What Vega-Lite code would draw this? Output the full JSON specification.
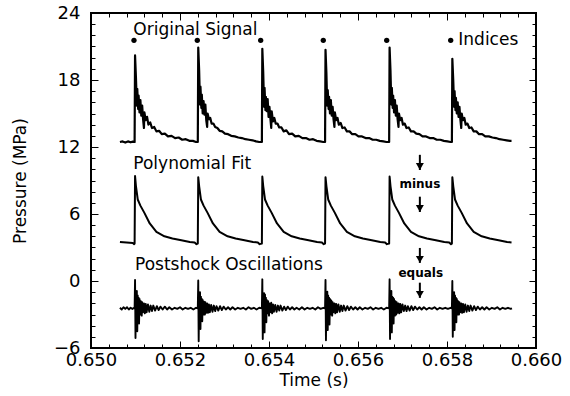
{
  "$schema": "https://vega.github.io/schema/vega-lite/v6.json",
  "width": 445,
  "height": 335,
  "autosize": "none",
  "padding": {"left": 91, "top": 13, "right": 34, "bottom": 48},
  "background": "white",
  "config": {
    "font": "DejaVu Sans",
    "view": {"stroke": "black", "strokeWidth": 2},
    "axis": {"domain": false, "grid": false, "labelFlush": false, "labelOverlap": false}
  },
  "datasets": {
    "original": [
      {"t":0.65065,"p":12.45},{"t":0.65071,"p":12.5},{"t":0.65077,"p":12.4},{"t":0.65083,"p":12.5},{"t":0.65089,"p":12.42},{"t":0.65094,"p":12.48},
      {"t":0.65098,"p":12.45},{"t":0.65099,"p":20.2},{"t":0.65101,"p":18.2},{"t":0.65102,"p":17.0},{"t":0.65103,"p":15.7},{"t":0.65104,"p":17.2},{"t":0.65106,"p":15.4},{"t":0.65107,"p":16.6},{"t":0.65109,"p":15.1},{"t":0.65111,"p":16.2},{"t":0.65113,"p":14.8},{"t":0.65115,"p":15.7},{"t":0.65117,"p":14.5},{"t":0.65119,"p":13.7},{"t":0.6512,"p":15.1},{"t":0.65123,"p":14.4},{"t":0.65126,"p":14.7},{"t":0.65129,"p":14.0},{"t":0.65133,"p":14.2},{"t":0.65137,"p":13.7},{"t":0.65142,"p":13.8},{"t":0.65147,"p":13.4},{"t":0.65153,"p":13.45},{"t":0.65159,"p":13.15},{"t":0.65166,"p":13.2},{"t":0.65173,"p":12.95},{"t":0.65181,"p":13.0},{"t":0.65189,"p":12.8},{"t":0.65197,"p":12.85},{"t":0.65205,"p":12.65},{"t":0.65213,"p":12.7},{"t":0.65221,"p":12.55},{"t":0.65229,"p":12.55},{"t":0.65236,"p":12.45},
      {"t":0.6524,"p":12.45},{"t":0.65241,"p":20.9},{"t":0.65243,"p":18.9},{"t":0.65244,"p":17.3},{"t":0.65245,"p":15.8},{"t":0.65246,"p":17.4},{"t":0.65248,"p":15.5},{"t":0.65249,"p":16.7},{"t":0.65251,"p":15.0},{"t":0.65253,"p":16.1},{"t":0.65255,"p":14.9},{"t":0.65257,"p":15.8},{"t":0.65259,"p":14.4},{"t":0.65261,"p":13.8},{"t":0.65262,"p":15.0},{"t":0.65265,"p":14.5},{"t":0.65268,"p":14.6},{"t":0.65271,"p":14.1},{"t":0.65275,"p":14.1},{"t":0.65279,"p":13.8},{"t":0.65284,"p":13.7},{"t":0.65289,"p":13.45},{"t":0.65295,"p":13.4},{"t":0.65301,"p":13.2},{"t":0.65308,"p":13.15},{"t":0.65315,"p":13.0},{"t":0.65323,"p":12.95},{"t":0.65331,"p":12.85},{"t":0.65339,"p":12.8},{"t":0.65347,"p":12.7},{"t":0.65355,"p":12.65},{"t":0.65363,"p":12.6},{"t":0.65371,"p":12.5},{"t":0.65378,"p":12.45},
      {"t":0.65384,"p":12.45},{"t":0.65385,"p":20.8},{"t":0.65387,"p":18.7},{"t":0.65388,"p":17.1},{"t":0.65389,"p":15.6},{"t":0.6539,"p":17.3},{"t":0.65392,"p":15.3},{"t":0.65393,"p":16.5},{"t":0.65395,"p":15.2},{"t":0.65397,"p":16.3},{"t":0.65399,"p":14.7},{"t":0.65401,"p":15.6},{"t":0.65403,"p":14.6},{"t":0.65405,"p":13.7},{"t":0.65406,"p":15.2},{"t":0.65409,"p":14.3},{"t":0.65412,"p":14.6},{"t":0.65415,"p":14.1},{"t":0.65419,"p":14.1},{"t":0.65423,"p":13.75},{"t":0.65428,"p":13.75},{"t":0.65433,"p":13.4},{"t":0.65439,"p":13.5},{"t":0.65445,"p":13.15},{"t":0.65452,"p":13.2},{"t":0.65459,"p":12.95},{"t":0.65467,"p":13.0},{"t":0.65475,"p":12.8},{"t":0.65483,"p":12.8},{"t":0.65491,"p":12.65},{"t":0.65499,"p":12.7},{"t":0.65507,"p":12.55},{"t":0.65515,"p":12.5},{"t":0.65522,"p":12.45},
      {"t":0.65526,"p":12.45},{"t":0.65527,"p":20.7},{"t":0.65529,"p":18.6},{"t":0.6553,"p":17.0},{"t":0.65531,"p":15.7},{"t":0.65532,"p":17.1},{"t":0.65534,"p":15.4},{"t":0.65535,"p":16.5},{"t":0.65537,"p":15.0},{"t":0.65539,"p":16.2},{"t":0.65541,"p":14.8},{"t":0.65543,"p":15.6},{"t":0.65545,"p":14.5},{"t":0.65547,"p":13.8},{"t":0.65548,"p":15.1},{"t":0.65551,"p":14.4},{"t":0.65554,"p":14.6},{"t":0.65557,"p":14.0},{"t":0.65561,"p":14.15},{"t":0.65565,"p":13.7},{"t":0.6557,"p":13.75},{"t":0.65575,"p":13.4},{"t":0.65581,"p":13.4},{"t":0.65587,"p":13.15},{"t":0.65594,"p":13.15},{"t":0.65601,"p":12.95},{"t":0.65609,"p":12.95},{"t":0.65617,"p":12.8},{"t":0.65625,"p":12.8},{"t":0.65633,"p":12.65},{"t":0.65641,"p":12.65},{"t":0.65649,"p":12.55},{"t":0.65657,"p":12.5},{"t":0.65664,"p":12.45},
      {"t":0.6567,"p":12.45},{"t":0.65671,"p":20.9},{"t":0.65673,"p":18.8},{"t":0.65674,"p":17.2},{"t":0.65675,"p":15.8},{"t":0.65676,"p":17.3},{"t":0.65678,"p":15.5},{"t":0.65679,"p":16.6},{"t":0.65681,"p":15.1},{"t":0.65683,"p":16.2},{"t":0.65685,"p":14.8},{"t":0.65687,"p":15.7},{"t":0.65689,"p":14.5},{"t":0.65691,"p":13.8},{"t":0.65692,"p":15.0},{"t":0.65695,"p":14.4},{"t":0.65698,"p":14.6},{"t":0.65701,"p":14.0},{"t":0.65705,"p":14.1},{"t":0.65709,"p":13.7},{"t":0.65714,"p":13.75},{"t":0.65719,"p":13.4},{"t":0.65725,"p":13.4},{"t":0.65731,"p":13.2},{"t":0.65738,"p":13.15},{"t":0.65745,"p":12.95},{"t":0.65753,"p":12.95},{"t":0.65761,"p":12.8},{"t":0.65769,"p":12.8},{"t":0.65777,"p":12.65},{"t":0.65785,"p":12.65},{"t":0.65793,"p":12.55},{"t":0.65801,"p":12.5},{"t":0.65808,"p":12.45},
      {"t":0.65811,"p":12.45},{"t":0.65812,"p":19.9},{"t":0.65814,"p":18.0},{"t":0.65815,"p":16.8},{"t":0.65816,"p":15.6},{"t":0.65817,"p":17.0},{"t":0.65819,"p":15.3},{"t":0.6582,"p":16.4},{"t":0.65822,"p":15.0},{"t":0.65824,"p":16.0},{"t":0.65826,"p":14.7},{"t":0.65828,"p":15.6},{"t":0.6583,"p":14.5},{"t":0.65832,"p":13.7},{"t":0.65833,"p":15.0},{"t":0.65836,"p":14.4},{"t":0.65839,"p":14.6},{"t":0.65842,"p":14.0},{"t":0.65846,"p":14.1},{"t":0.6585,"p":13.7},{"t":0.65855,"p":13.75},{"t":0.6586,"p":13.4},{"t":0.65866,"p":13.4},{"t":0.65872,"p":13.15},{"t":0.65879,"p":13.15},{"t":0.65886,"p":12.95},{"t":0.65894,"p":12.95},{"t":0.65902,"p":12.85},{"t":0.6591,"p":12.8},{"t":0.65918,"p":12.7},{"t":0.65926,"p":12.65},{"t":0.65934,"p":12.6},{"t":0.65942,"p":12.55},{"t":0.65945,"p":12.55}
    ],
    "fit": [
      {"t":0.65065,"p":3.5},{"t":0.6508,"p":3.45},{"t":0.65094,"p":3.4},{"t":0.65097,"p":3.3},
      {"t":0.65098,"p":3.35},{"t":0.65099,"p":9.4},{"t":0.65101,"p":8.5},{"t":0.65105,"p":7.3},{"t":0.65111,"p":6.75},{"t":0.6512,"p":6.1},{"t":0.65132,"p":5.15},{"t":0.65147,"p":4.4},{"t":0.65165,"p":4.0},{"t":0.65183,"p":3.8},{"t":0.65203,"p":3.65},{"t":0.65222,"p":3.5},{"t":0.65233,"p":3.45},{"t":0.65237,"p":3.3},
      {"t":0.6524,"p":3.35},{"t":0.65241,"p":9.3},{"t":0.65243,"p":8.5},{"t":0.65247,"p":7.3},{"t":0.65253,"p":6.75},{"t":0.65262,"p":6.1},{"t":0.65274,"p":5.15},{"t":0.65289,"p":4.4},{"t":0.65307,"p":4.0},{"t":0.65325,"p":3.8},{"t":0.65345,"p":3.65},{"t":0.65364,"p":3.5},{"t":0.65375,"p":3.45},{"t":0.65379,"p":3.3},
      {"t":0.65384,"p":3.35},{"t":0.65385,"p":9.35},{"t":0.65387,"p":8.5},{"t":0.65391,"p":7.3},{"t":0.65397,"p":6.75},{"t":0.65406,"p":6.1},{"t":0.65418,"p":5.15},{"t":0.65433,"p":4.4},{"t":0.65451,"p":4.0},{"t":0.65469,"p":3.8},{"t":0.65489,"p":3.65},{"t":0.65508,"p":3.5},{"t":0.65519,"p":3.45},{"t":0.65523,"p":3.3},
      {"t":0.65526,"p":3.35},{"t":0.65527,"p":9.3},{"t":0.65529,"p":8.5},{"t":0.65533,"p":7.3},{"t":0.65539,"p":6.75},{"t":0.65548,"p":6.1},{"t":0.6556,"p":5.15},{"t":0.65575,"p":4.4},{"t":0.65593,"p":4.0},{"t":0.65611,"p":3.8},{"t":0.65631,"p":3.65},{"t":0.6565,"p":3.5},{"t":0.65661,"p":3.45},{"t":0.65665,"p":3.3},
      {"t":0.6567,"p":3.35},{"t":0.65671,"p":9.35},{"t":0.65673,"p":8.5},{"t":0.65677,"p":7.3},{"t":0.65683,"p":6.75},{"t":0.65692,"p":6.1},{"t":0.65704,"p":5.15},{"t":0.65719,"p":4.4},{"t":0.65737,"p":4.0},{"t":0.65755,"p":3.8},{"t":0.65775,"p":3.65},{"t":0.65794,"p":3.5},{"t":0.65805,"p":3.45},{"t":0.65809,"p":3.3},
      {"t":0.65811,"p":3.35},{"t":0.65812,"p":9.3},{"t":0.65814,"p":8.5},{"t":0.65818,"p":7.3},{"t":0.65824,"p":6.75},{"t":0.65833,"p":6.1},{"t":0.65845,"p":5.15},{"t":0.6586,"p":4.4},{"t":0.65878,"p":4.0},{"t":0.65896,"p":3.8},{"t":0.65916,"p":3.65},{"t":0.65935,"p":3.5},{"t":0.65945,"p":3.45}
    ],
    "oscillations": [
      {"t":0.65065,"p":-2.4},{"t":0.65069,"p":-2.55},{"t":0.65073,"p":-2.35},{"t":0.65077,"p":-2.5},{"t":0.65081,"p":-2.35},{"t":0.65085,"p":-2.55},{"t":0.65089,"p":-2.4},{"t":0.65093,"p":-2.5},{"t":0.65097,"p":-2.4},
      {"t":0.65098,"p":-2.45},{"t":0.65099,"p":0.1},{"t":0.651,"p":-5.1},{"t":0.65101,"p":-1.3},{"t":0.65102,"p":-3.3},{"t":0.65103,"p":-0.9},{"t":0.65104,"p":-4.5},{"t":0.65105,"p":-1.3},{"t":0.65106,"p":-3.0},{"t":0.65107,"p":-1.5},{"t":0.65108,"p":-3.8},{"t":0.65109,"p":-1.6},{"t":0.65111,"p":-3.0},{"t":0.65112,"p":-1.8},{"t":0.65114,"p":-3.1},{"t":0.65115,"p":-1.9},{"t":0.65117,"p":-2.8},{"t":0.65119,"p":-2.0},{"t":0.65121,"p":-2.9},{"t":0.65123,"p":-2.05},{"t":0.65125,"p":-2.8},{"t":0.65128,"p":-2.1},{"t":0.65131,"p":-2.75},{"t":0.65134,"p":-2.2},{"t":0.65137,"p":-2.7},{"t":0.6514,"p":-2.2},{"t":0.65144,"p":-2.65},{"t":0.65148,"p":-2.25},{"t":0.65152,"p":-2.6},{"t":0.65156,"p":-2.3},{"t":0.65161,"p":-2.55},{"t":0.65166,"p":-2.3},{"t":0.65171,"p":-2.55},{"t":0.65176,"p":-2.35},{"t":0.65182,"p":-2.55},{"t":0.65188,"p":-2.4},{"t":0.65194,"p":-2.5},{"t":0.652,"p":-2.35},{"t":0.65206,"p":-2.55},{"t":0.65212,"p":-2.4},{"t":0.65218,"p":-2.5},{"t":0.65224,"p":-2.4},{"t":0.6523,"p":-2.55},{"t":0.65236,"p":-2.4},
      {"t":0.6524,"p":-2.45},{"t":0.65241,"p":0.05},{"t":0.65242,"p":-5.4},{"t":0.65243,"p":-1.2},{"t":0.65244,"p":-3.4},{"t":0.65245,"p":-1.0},{"t":0.65246,"p":-4.3},{"t":0.65247,"p":-1.4},{"t":0.65248,"p":-3.1},{"t":0.65249,"p":-1.6},{"t":0.6525,"p":-3.6},{"t":0.65251,"p":-1.7},{"t":0.65253,"p":-3.0},{"t":0.65254,"p":-1.85},{"t":0.65256,"p":-3.0},{"t":0.65257,"p":-1.9},{"t":0.65259,"p":-2.85},{"t":0.65261,"p":-2.0},{"t":0.65263,"p":-2.85},{"t":0.65265,"p":-2.1},{"t":0.65267,"p":-2.8},{"t":0.6527,"p":-2.15},{"t":0.65273,"p":-2.75},{"t":0.65276,"p":-2.2},{"t":0.65279,"p":-2.7},{"t":0.65282,"p":-2.25},{"t":0.65286,"p":-2.65},{"t":0.6529,"p":-2.25},{"t":0.65294,"p":-2.6},{"t":0.65298,"p":-2.3},{"t":0.65303,"p":-2.55},{"t":0.65308,"p":-2.35},{"t":0.65313,"p":-2.55},{"t":0.65318,"p":-2.35},{"t":0.65324,"p":-2.55},{"t":0.6533,"p":-2.4},{"t":0.65336,"p":-2.5},{"t":0.65342,"p":-2.4},{"t":0.65348,"p":-2.55},{"t":0.65354,"p":-2.35},{"t":0.6536,"p":-2.5},{"t":0.65366,"p":-2.4},{"t":0.65372,"p":-2.55},{"t":0.65378,"p":-2.4},
      {"t":0.65384,"p":-2.45},{"t":0.65385,"p":0.15},{"t":0.65386,"p":-5.2},{"t":0.65387,"p":-1.4},{"t":0.65388,"p":-3.2},{"t":0.65389,"p":-1.1},{"t":0.6539,"p":-4.6},{"t":0.65391,"p":-1.2},{"t":0.65392,"p":-3.1},{"t":0.65393,"p":-1.5},{"t":0.65394,"p":-3.7},{"t":0.65395,"p":-1.7},{"t":0.65397,"p":-2.9},{"t":0.65398,"p":-1.8},{"t":0.654,"p":-3.1},{"t":0.65401,"p":-2.0},{"t":0.65403,"p":-2.8},{"t":0.65405,"p":-1.95},{"t":0.65407,"p":-2.9},{"t":0.65409,"p":-2.1},{"t":0.65411,"p":-2.75},{"t":0.65414,"p":-2.15},{"t":0.65417,"p":-2.75},{"t":0.6542,"p":-2.2},{"t":0.65423,"p":-2.65},{"t":0.65426,"p":-2.2},{"t":0.6543,"p":-2.65},{"t":0.65434,"p":-2.3},{"t":0.65438,"p":-2.6},{"t":0.65442,"p":-2.3},{"t":0.65447,"p":-2.55},{"t":0.65452,"p":-2.35},{"t":0.65457,"p":-2.55},{"t":0.65462,"p":-2.4},{"t":0.65468,"p":-2.55},{"t":0.65474,"p":-2.35},{"t":0.6548,"p":-2.55},{"t":0.65486,"p":-2.4},{"t":0.65492,"p":-2.5},{"t":0.65498,"p":-2.4},{"t":0.65504,"p":-2.55},{"t":0.6551,"p":-2.35},{"t":0.65516,"p":-2.5},{"t":0.65522,"p":-2.4},
      {"t":0.65526,"p":-2.45},{"t":0.65527,"p":0.1},{"t":0.65528,"p":-5.3},{"t":0.65529,"p":-1.3},{"t":0.6553,"p":-3.3},{"t":0.65531,"p":-0.95},{"t":0.65532,"p":-4.4},{"t":0.65533,"p":-1.3},{"t":0.65534,"p":-3.0},{"t":0.65535,"p":-1.5},{"t":0.65536,"p":-3.9},{"t":0.65537,"p":-1.6},{"t":0.65539,"p":-3.0},{"t":0.6554,"p":-1.75},{"t":0.65542,"p":-3.1},{"t":0.65543,"p":-1.9},{"t":0.65545,"p":-2.8},{"t":0.65547,"p":-2.0},{"t":0.65549,"p":-2.9},{"t":0.65551,"p":-2.05},{"t":0.65553,"p":-2.8},{"t":0.65556,"p":-2.1},{"t":0.65559,"p":-2.75},{"t":0.65562,"p":-2.2},{"t":0.65565,"p":-2.7},{"t":0.65568,"p":-2.2},{"t":0.65572,"p":-2.65},{"t":0.65576,"p":-2.25},{"t":0.6558,"p":-2.6},{"t":0.65584,"p":-2.3},{"t":0.65589,"p":-2.55},{"t":0.65594,"p":-2.35},{"t":0.65599,"p":-2.55},{"t":0.65604,"p":-2.35},{"t":0.6561,"p":-2.55},{"t":0.65616,"p":-2.4},{"t":0.65622,"p":-2.5},{"t":0.65628,"p":-2.35},{"t":0.65634,"p":-2.55},{"t":0.6564,"p":-2.4},{"t":0.65646,"p":-2.5},{"t":0.65652,"p":-2.4},{"t":0.65658,"p":-2.55},{"t":0.65664,"p":-2.4},
      {"t":0.6567,"p":-2.45},{"t":0.65671,"p":0.15},{"t":0.65672,"p":-5.2},{"t":0.65673,"p":-1.2},{"t":0.65674,"p":-3.5},{"t":0.65675,"p":-0.9},{"t":0.65676,"p":-4.6},{"t":0.65677,"p":-1.4},{"t":0.65678,"p":-3.1},{"t":0.65679,"p":-1.5},{"t":0.6568,"p":-3.8},{"t":0.65681,"p":-1.6},{"t":0.65683,"p":-3.1},{"t":0.65684,"p":-1.8},{"t":0.65686,"p":-3.0},{"t":0.65687,"p":-1.9},{"t":0.65689,"p":-2.85},{"t":0.65691,"p":-2.0},{"t":0.65693,"p":-2.9},{"t":0.65695,"p":-2.05},{"t":0.65697,"p":-2.8},{"t":0.657,"p":-2.1},{"t":0.65703,"p":-2.7},{"t":0.65706,"p":-2.2},{"t":0.65709,"p":-2.7},{"t":0.65712,"p":-2.25},{"t":0.65716,"p":-2.65},{"t":0.6572,"p":-2.25},{"t":0.65724,"p":-2.6},{"t":0.65728,"p":-2.3},{"t":0.65733,"p":-2.55},{"t":0.65738,"p":-2.35},{"t":0.65743,"p":-2.55},{"t":0.65748,"p":-2.35},{"t":0.65754,"p":-2.55},{"t":0.6576,"p":-2.4},{"t":0.65766,"p":-2.5},{"t":0.65772,"p":-2.35},{"t":0.65778,"p":-2.55},{"t":0.65784,"p":-2.4},{"t":0.6579,"p":-2.5},{"t":0.65796,"p":-2.4},{"t":0.65802,"p":-2.5},{"t":0.65808,"p":-2.4},
      {"t":0.65811,"p":-2.45},{"t":0.65812,"p":0.0},{"t":0.65813,"p":-5.0},{"t":0.65814,"p":-1.3},{"t":0.65815,"p":-3.3},{"t":0.65816,"p":-1.0},{"t":0.65817,"p":-4.4},{"t":0.65818,"p":-1.3},{"t":0.65819,"p":-3.0},{"t":0.6582,"p":-1.5},{"t":0.65821,"p":-3.7},{"t":0.65822,"p":-1.6},{"t":0.65824,"p":-3.0},{"t":0.65825,"p":-1.8},{"t":0.65827,"p":-3.0},{"t":0.65828,"p":-1.9},{"t":0.6583,"p":-2.8},{"t":0.65832,"p":-2.0},{"t":0.65834,"p":-2.85},{"t":0.65836,"p":-2.05},{"t":0.65838,"p":-2.8},{"t":0.65841,"p":-2.1},{"t":0.65844,"p":-2.75},{"t":0.65847,"p":-2.2},{"t":0.6585,"p":-2.7},{"t":0.65853,"p":-2.2},{"t":0.65857,"p":-2.65},{"t":0.65861,"p":-2.25},{"t":0.65865,"p":-2.6},{"t":0.65869,"p":-2.3},{"t":0.65874,"p":-2.55},{"t":0.65879,"p":-2.35},{"t":0.65884,"p":-2.55},{"t":0.65889,"p":-2.35},{"t":0.65895,"p":-2.55},{"t":0.65901,"p":-2.4},{"t":0.65907,"p":-2.5},{"t":0.65913,"p":-2.35},{"t":0.65919,"p":-2.55},{"t":0.65925,"p":-2.4},{"t":0.65931,"p":-2.5},{"t":0.65937,"p":-2.4},{"t":0.65943,"p":-2.5},{"t":0.65946,"p":-2.45}
    ],
    "indices": [
      {"t":0.650966,"p":21.55},{"t":0.652389,"p":21.55},{"t":0.653813,"p":21.55},{"t":0.65522,"p":21.55},{"t":0.656645,"p":21.55},{"t":0.658083,"p":21.55}
    ],
    "labels": [
      {"t":0.650951,"p":22.0,"text":"Original Signal"},
      {"t":0.650951,"p":10.0,"text":"Polynomial Fit"},
      {"t":0.650989,"p":0.95,"text":"Postshock Oscillations"},
      {"t":0.658254,"p":21.14,"text":"Indices"}
    ],
    "notes": [
      {"t":0.65739,"p":8.31,"text":"minus"},
      {"t":0.65741,"p":0.37,"text":"equals"}
    ],
    "arrows": [
      {"t":0.65739,"top":11.3,"tip":9.94},
      {"t":0.65739,"top":7.55,"tip":6.18},
      {"t":0.65739,"top":2.96,"tip":1.62},
      {"t":0.65739,"top":-0.15,"tip":-1.51}
    ]
  },
  "layer": [
    {
      "data": {"name": "original"},
      "mark": {"type": "line", "color": "black", "strokeWidth": 2.2, "strokeJoin": "round"},
      "encoding": {
        "x": {"field": "t", "type": "quantitative",
              "scale": {"domain": [0.65, 0.66], "nice": false, "zero": false},
              "axis": {"orient": "bottom", "values": [0.65, 0.652, 0.654, 0.656, 0.658, 0.66], "format": ".3f",
                       "ticks": false, "labelPadding": 3, "labelFontSize": 18, "labelColor": "black", "labelFont": "DejaVu Sans",
                       "title": "Time (s)", "titleFontSize": 17, "titleFontWeight": "normal", "titleColor": "black", "titleFont": "DejaVu Sans", "titlePadding": 3}},
        "y": {"field": "p", "type": "quantitative",
              "scale": {"domain": [-6, 24], "nice": false, "zero": false},
              "axis": {"orient": "left", "values": [-6, 0, 6, 12, 18, 24],
                       "ticks": false, "labelPadding": 11, "labelFontSize": 18, "labelColor": "black", "labelFont": "DejaVu Sans",
                       "title": "Pressure (MPa)", "titleFontSize": 17, "titleFontWeight": "normal", "titleColor": "black", "titleFont": "DejaVu Sans", "titlePadding": 24}}
      }
    },
    {
      "data": {"name": "fit"},
      "mark": {"type": "line", "color": "black", "strokeWidth": 2, "strokeJoin": "round"},
      "encoding": {
        "x": {"field": "t", "type": "quantitative",
              "scale": {"domain": [0.65, 0.66], "nice": false, "zero": false},
              "axis": {"orient": "bottom", "values": [0.652, 0.654, 0.656, 0.658],
                       "labels": false, "tickColor": "black", "tickSize": -7, "title": null}},
        "y": {"field": "p", "type": "quantitative",
              "scale": {"domain": [-6, 24], "nice": false, "zero": false},
              "axis": {"orient": "left", "values": [0, 6, 12, 18],
                       "labels": false, "tickColor": "black", "tickSize": -7, "title": null}}
      }
    },
    {
      "data": {"name": "oscillations"},
      "mark": {"type": "line", "color": "black", "strokeWidth": 1.9, "strokeJoin": "round"},
      "encoding": {
        "x": {"field": "t", "type": "quantitative",
              "scale": {"domain": [0.65, 0.66], "nice": false, "zero": false},
              "axis": {"orient": "top", "values": [0.652, 0.654, 0.656, 0.658],
                       "labels": false, "tickColor": "black", "tickSize": -7, "title": null}},
        "y": {"field": "p", "type": "quantitative",
              "scale": {"domain": [-6, 24], "nice": false, "zero": false},
              "axis": {"orient": "right", "values": [0, 6, 12, 18],
                       "labels": false, "tickColor": "black", "tickSize": -7, "title": null}}
      }
    },
    {
      "data": {"name": "indices"},
      "mark": {"type": "point", "filled": true, "color": "black", "size": 28, "opacity": 1},
      "encoding": {
        "x": {"field": "t", "type": "quantitative",
              "scale": {"domain": [0.65, 0.66], "nice": false, "zero": false},
              "axis": {"orient": "bottom",
                       "values": [0.6504, 0.6508, 0.6512, 0.6516, 0.6524, 0.6528, 0.6532, 0.6536, 0.6544, 0.6548, 0.6552, 0.6556, 0.6564, 0.6568, 0.6572, 0.6576, 0.6584, 0.6588, 0.6592, 0.6596],
                       "labels": false, "tickColor": "black", "tickSize": -4, "title": null}},
        "y": {"field": "p", "type": "quantitative",
              "scale": {"domain": [-6, 24], "nice": false, "zero": false},
              "axis": {"orient": "left",
                       "values": [-5, -4, -3, -2, -1, 1, 2, 3, 4, 5, 7, 8, 9, 10, 11, 13, 14, 15, 16, 17, 19, 20, 21, 22, 23],
                       "labels": false, "tickColor": "black", "tickSize": -4, "title": null}}
      }
    },
    {
      "data": {"name": "labels"},
      "mark": {"type": "text", "align": "left", "baseline": "alphabetic", "fontSize": 17, "color": "black", "font": "DejaVu Sans"},
      "encoding": {
        "x": {"field": "t", "type": "quantitative",
              "scale": {"domain": [0.65, 0.66], "nice": false, "zero": false},
              "axis": {"orient": "top",
                       "values": [0.6504, 0.6508, 0.6512, 0.6516, 0.6524, 0.6528, 0.6532, 0.6536, 0.6544, 0.6548, 0.6552, 0.6556, 0.6564, 0.6568, 0.6572, 0.6576, 0.6584, 0.6588, 0.6592, 0.6596],
                       "labels": false, "tickColor": "black", "tickSize": -4, "title": null}},
        "y": {"field": "p", "type": "quantitative",
              "scale": {"domain": [-6, 24], "nice": false, "zero": false},
              "axis": {"orient": "right",
                       "values": [-5, -4, -3, -2, -1, 1, 2, 3, 4, 5, 7, 8, 9, 10, 11, 13, 14, 15, 16, 17, 19, 20, 21, 22, 23],
                       "labels": false, "tickColor": "black", "tickSize": -4, "title": null}},
        "text": {"field": "text", "type": "nominal"}
      }
    },
    {
      "data": {"name": "notes"},
      "mark": {"type": "text", "align": "center", "baseline": "alphabetic", "fontSize": 12, "fontWeight": "bold", "color": "black", "font": "DejaVu Sans"},
      "encoding": {
        "x": {"field": "t", "type": "quantitative", "scale": {"domain": [0.65, 0.66], "nice": false, "zero": false},
              "axis": {"orient": "bottom", "values": [0.65], "labels": false, "ticks": false, "title": null}},
        "y": {"field": "p", "type": "quantitative", "scale": {"domain": [-6, 24], "nice": false, "zero": false},
              "axis": {"orient": "left", "values": [-6], "labels": false, "ticks": false, "title": null}},
        "text": {"field": "text", "type": "nominal"}
      }
    },
    {
      "data": {"name": "arrows"},
      "mark": {"type": "rule", "color": "black", "strokeWidth": 2},
      "encoding": {
        "x": {"field": "t", "type": "quantitative", "scale": {"domain": [0.65, 0.66], "nice": false, "zero": false},
              "axis": {"orient": "bottom", "values": [0.65], "labels": false, "ticks": false, "title": null}},
        "y": {"field": "top", "type": "quantitative", "scale": {"domain": [-6, 24], "nice": false, "zero": false},
              "axis": {"orient": "left", "values": [-6], "labels": false, "ticks": false, "title": null}},
        "y2": {"field": "tip"}
      }
    },
    {
      "data": {"name": "arrows"},
      "mark": {"type": "point", "shape": "triangle-down", "filled": true, "color": "black", "size": 64, "opacity": 1, "yOffset": -3.5},
      "encoding": {
        "x": {"field": "t", "type": "quantitative", "scale": {"domain": [0.65, 0.66], "nice": false, "zero": false},
              "axis": {"orient": "bottom", "values": [0.65], "labels": false, "ticks": false, "title": null}},
        "y": {"field": "tip", "type": "quantitative", "scale": {"domain": [-6, 24], "nice": false, "zero": false},
              "axis": {"orient": "left", "values": [-6], "labels": false, "ticks": false, "title": null}}
      }
    }
  ],
  "resolve": {"axis": {"x": "independent", "y": "independent"}}
}
